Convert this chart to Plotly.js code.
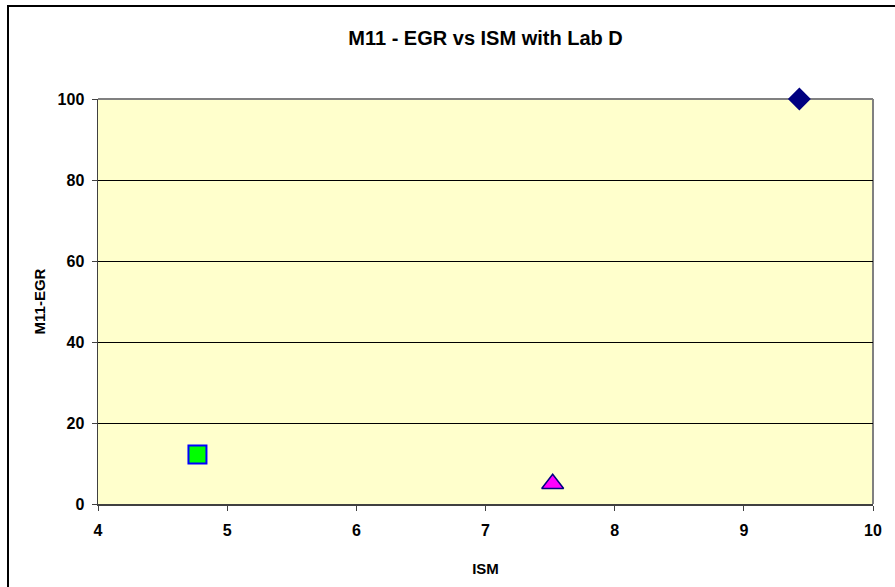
<!DOCTYPE html>
<html>
<head>
<meta charset="utf-8">
<script src="https://cdn.plot.ly/plotly-3.0.1.min.js"></script>
<style>
html, body { margin: 0; padding: 0; background: #ffffff; }
#wrap { position: relative; width: 895px; height: 587px; overflow: hidden; }
#chart { position: absolute; left: 0; top: 0; width: 895px; height: 587px; }
#frame { position: absolute; left: 7px; top: 5px; width: 900px; height: 600px;
         border-left: 2px solid #000; border-top: 2px solid #000; pointer-events: none; }
</style>
</head>
<body>
<div id="wrap">
<div id="chart"></div>
<div id="frame"></div>
</div>
<script>
// Data
const seriesNames = ["Lab A", "Lab B", "Lab D"];
const ismValues = [9.43, 4.77, 7.52];
const egrValues = [100, 12.2, 5];
const xTickVals = [4, 5, 6, 7, 8, 9, 10];
const xTickText = ["4", "5", "6", "7", "8", "9", "10"];
const yTickVals = [0, 20, 40, 60, 80, 100];
const yTickText = ["0", "20", "40", "60", "80", "100"];
const markerSymbols = ["diamond", "square", "triangle-up"];
const markerFills = ["#000080", "#00FF00", "#FF00FF"];
const markerLines = ["#000080", "#0000FF", "#000080"];
const markerSizes = [16, 18, 19];

const traces = seriesNames.map((name, i) => ({
  type: "scatter",
  mode: "markers",
  name: name,
  x: [ismValues[i]],
  y: [egrValues[i]],
  cliponaxis: false,
  marker: {
    symbol: markerSymbols[i],
    color: markerFills[i],
    size: markerSizes[i],
    line: { color: markerLines[i], width: i === 1 ? 2 : 1.5 }
  },
  hoverinfo: "x+y"
}));

const fam = "Liberation Sans, Arial, sans-serif";
const bold = t => "<b>" + t + "</b>";

const layout = {
  width: 895,
  height: 587,
  margin: { l: 98, r: 22, t: 99, b: 83 },
  paper_bgcolor: "#ffffff",
  plot_bgcolor: "#FFFFCC",
  showlegend: false,
  font: { family: fam, color: "#000000" },
  title: {
    text: "M11 - EGR vs ISM with Lab D",
    font: { family: fam, size: 20, color: "#000", weight: "bold" },
    x: 0.5425, xanchor: "center",
    y: 0.935, yanchor: "middle"
  },
  xaxis: {
    range: [4, 10],
    tickmode: "array",
    tickvals: xTickVals,
    ticktext: xTickText.map(bold),
    showgrid: false,
    zeroline: false,
    showline: true,
    linecolor: "#404040",
    linewidth: 1.5,
    ticks: "outside",
    ticklen: 5,
    tickcolor: "#404040",
    ticklabelstandoff: 6,
    tickfont: { family: fam, size: 16, color: "#000", weight: "bold" },
    title: { text: "ISM", font: { family: fam, size: 15, color: "#000", weight: "bold" }, standoff: 26 }
  },
  yaxis: {
    range: [0, 100],
    tickmode: "array",
    tickvals: yTickVals,
    ticktext: yTickText.map(bold),
    showgrid: true,
    gridcolor: "#000000",
    gridwidth: 1,
    zeroline: false,
    showline: true,
    linecolor: "#404040",
    linewidth: 1.5,
    ticks: "outside",
    ticklen: 5,
    tickcolor: "#404040",
    ticklabelstandoff: 4,
    tickfont: { family: fam, size: 16, color: "#000", weight: "bold" },
    title: { text: "M11-EGR", font: { family: fam, size: 15, color: "#000", weight: "bold" }, standoff: 8 }
  },
  shapes: [
    { type: "line", xref: "paper", yref: "paper", x0: 0, x1: 1, y0: 1, y1: 1,
      line: { color: "#808080", width: 2 }, layer: "below" },
    { type: "line", xref: "paper", yref: "paper", x0: 1, x1: 1, y0: 0, y1: 1,
      line: { color: "#808080", width: 2 }, layer: "below" }
  ]
};

Plotly.newPlot("chart", traces, layout, { displayModeBar: false, staticPlot: true });
</script>
</body>
</html>
